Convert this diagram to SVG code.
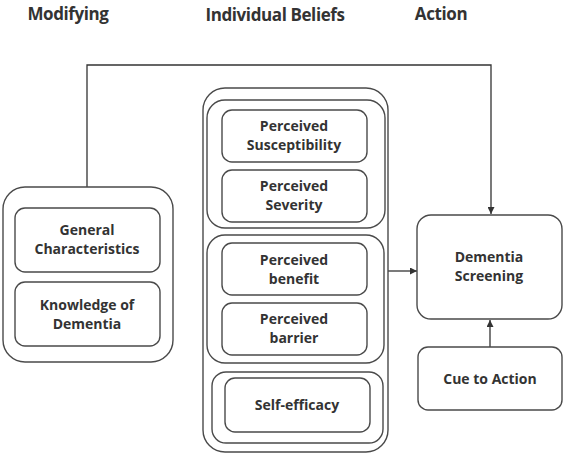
<svg xmlns="http://www.w3.org/2000/svg" width="568" height="453" viewBox="0 0 568 453">
<defs>
<marker id="ah" viewBox="0 0 10 10" refX="10" refY="5" markerWidth="7" markerHeight="7" markerUnits="userSpaceOnUse" orient="auto">
<path d="M0,0 L10,5 L0,10 z" fill="#333"/>
</marker>
<style>
.b{fill:#fff;stroke:#4a4a4a;stroke-width:1.4}
.t{font-family:"Open Sans","DejaVu Sans",sans-serif;font-weight:bold;font-size:14px;fill:#333;text-anchor:middle}
.h{font-family:"Open Sans","DejaVu Sans",sans-serif;font-weight:bold;font-size:17px;fill:#333;text-anchor:middle;letter-spacing:-0.4px}
.c{fill:none;stroke:#333;stroke-width:1.3}
</style>
</defs>
<rect width="568" height="453" fill="#fff"/>
<g id="headers">
<text class="h" x="68" y="20">Modifying</text>
<text class="h" x="275" y="21">Individual Beliefs</text>
<text class="h" x="441" y="20">Action</text>
</g>
<g id="connectors">
<polyline class="c" points="87,187 87,65 491,65 491,214" marker-end="url(#ah)"/>
<line class="c" x1="388" y1="271" x2="417" y2="271" marker-end="url(#ah)"/>
<line class="c" x1="490" y1="347" x2="490" y2="320" marker-end="url(#ah)"/>
</g>
<g id="modifying">
<rect class="b" x="3" y="187" width="170" height="175" rx="22"/>
<g id="general">
<rect class="b" x="15" y="208" width="145" height="64" rx="10"/>
<text class="t" x="87" y="235">General</text>
<text class="t" x="87" y="254">Characteristics</text>
</g>
<g id="knowledge">
<rect class="b" x="15" y="282" width="145" height="64" rx="10"/>
<text class="t" x="87" y="310">Knowledge of</text>
<text class="t" x="87" y="329">Dementia</text>
</g>
</g>
<g id="beliefs">
<rect class="b" x="203" y="88" width="185" height="364" rx="22"/>
<g id="threat">
<rect class="b" x="207" y="100" width="178" height="128" rx="18"/>
<g id="susceptibility">
<rect class="b" x="222" y="110" width="145" height="52" rx="10"/>
<text class="t" x="294" y="131">Perceived</text>
<text class="t" x="294" y="150">Susceptibility</text>
</g>
<g id="severity">
<rect class="b" x="222" y="170" width="145" height="52" rx="10"/>
<text class="t" x="294" y="191">Perceived</text>
<text class="t" x="294" y="210">Severity</text>
</g>
</g>
<g id="benefitbarrier">
<rect class="b" x="207" y="235" width="177" height="128" rx="18"/>
<g id="benefit">
<rect class="b" x="222" y="243" width="145" height="52" rx="10"/>
<text class="t" x="294" y="265">Perceived</text>
<text class="t" x="294" y="284">benefit</text>
</g>
<g id="barrier">
<rect class="b" x="222" y="303" width="145" height="52" rx="10"/>
<text class="t" x="294" y="324">Perceived</text>
<text class="t" x="294" y="343">barrier</text>
</g>
</g>
<g id="efficacy">
<rect class="b" x="212" y="372" width="171" height="71" rx="14"/>
<g id="selfefficacy">
<rect class="b" x="225" y="378" width="145" height="54" rx="10"/>
<text class="t" x="297" y="410">Self-efficacy</text>
</g>
</g>
</g>
<g id="screening">
<rect class="b" x="417" y="215" width="145" height="104" rx="14"/>
<text class="t" x="489" y="262">Dementia</text>
<text class="t" x="489" y="281">Screening</text>
</g>
<g id="cue">
<rect class="b" x="418" y="347" width="144" height="63" rx="10"/>
<text class="t" x="490" y="384">Cue to Action</text>
</g>
</svg>
